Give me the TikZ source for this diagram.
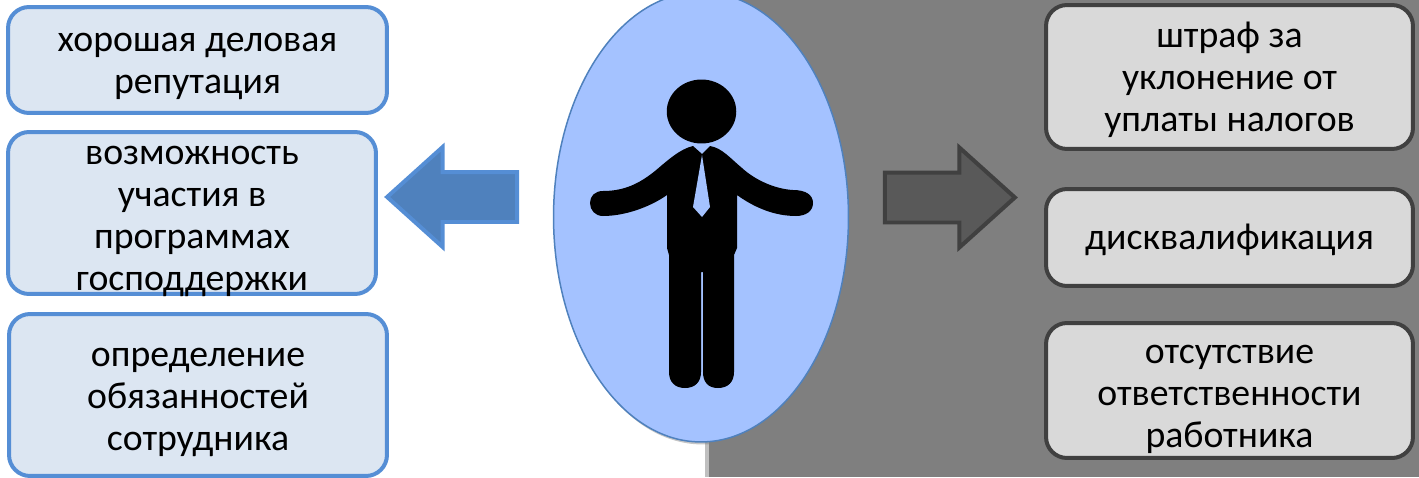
\documentclass[tikz,border=0pt]{standalone}
\usepackage{fontspec}
\setmainfont{Carlito}
\usetikzlibrary{shapes.geometric,shapes.arrows,shadows}
\definecolor{BackGray}{HTML}{7F7F7F}
\definecolor{StripGray}{HTML}{BFBFBF}
\definecolor{OvalBlue}{HTML}{A4C2FF}
\definecolor{OvalEdge}{HTML}{4F81BD}
\definecolor{GoodFill}{HTML}{DCE6F2}
\definecolor{GoodEdge}{HTML}{558ED5}
\definecolor{BadFill}{HTML}{D9D9D9}
\definecolor{BadEdge}{HTML}{404040}
\tikzset{
  goodbox/.style={rectangle,rounded corners=0.42cm,draw=GoodEdge,fill=GoodFill,line width=0.08cm,inner sep=0pt},
  badbox/.style={rectangle,rounded corners=0.42cm,draw=BadEdge,fill=BadFill,line width=0.08cm,inner sep=0pt},
  boxtext/.style={inner sep=0pt,align=center,font=\fontsize{21.5}{23.9}\selectfont},
  bigarrow/.style={single arrow,inner sep=0pt,text height=0.92cm,text depth=0pt,minimum height=2.6cm,
              single arrow head extend=0.5cm,single arrow tip angle=84,line width=0.08cm},
}

\begin{document}
\begin{tikzpicture}[x=0.02cm,y=-0.02cm]
  \useasboundingbox (0,0) rectangle (1419,477);
  \fill[StripGray] (705,0) rectangle (709,477);
  \node[rectangle,fill=BackGray,inner sep=0pt,minimum width=14.2cm,minimum height=9.54cm] (back) at (1064,238.5) {};

  \node[ellipse,draw=OvalEdge,fill=OvalBlue,line width=0.03cm,inner sep=0pt,minimum width=5.9cm,minimum height=9cm,
        drop shadow={shadow xshift=0.03cm,shadow yshift=-0.05cm,opacity=0.45}] (oval) at (701,217) {};

  \node[goodbox,minimum width=7.58cm,minimum height=2.12cm,label={[boxtext,yshift=-0.12cm]center:{хорошая деловая\\репутация}}] (good1) at (197.5,60) {};
  \node[goodbox,minimum width=7.36cm,minimum height=3.24cm,label={[boxtext,yshift=-0.16cm]center:{возможность\\участия в\\программах\\господдержки}}] (good2) at (192,213) {};
  \node[goodbox,minimum width=7.56cm,minimum height=3.24cm,label={[boxtext,yshift=-0.14cm]center:{определение\\обязанностей\\сотрудника}}] (good3) at (198,395) {};

  \node[badbox,minimum width=7.34cm,minimum height=2.88cm,label={[boxtext,yshift=-0.06cm]center:{штраф за\\уклонение от\\уплаты налогов}}] (bad1) at (1229.5,77) {};
  \node[badbox,minimum width=7.34cm,minimum height=1.94cm,label={[boxtext,yshift=-0.04cm]center:{дисквалификация}}] (bad2) at (1229.5,237.5) {};
  \node[badbox,minimum width=7.34cm,minimum height=2.7cm,label={[boxtext,yshift=-0.18cm]center:{отсутствие\\ответственности\\работника}}] (bad3) at (1229.5,390.5) {};

  \node[bigarrow,draw=GoodEdge,fill=OvalEdge,shape border rotate=180] (goodarrow) at (466,197) {};
  \node[bigarrow,draw=BadEdge,fill=black!65] (badarrow) at (936,197.5) {};

  \node[ellipse,fill=black,inner sep=0pt,minimum width=1.39cm,minimum height=1.28cm] (head) at (701.5,111.5) {};
  \fill[black] (693,146) -- (702,154) -- (710,146)
    .. controls (722,148) and (730,158) .. (742,168)
    .. controls (755,180) and (775,189) .. (793,190)
    .. controls (806,190) and (813,195) .. (813,203)
    .. controls (813,211) and (806,216) .. (796,216)
    .. controls (775,216) and (755,208) .. (737,195)
    -- (737,248) -- (734,255) -- (734,372)
    .. controls (734,382) and (728,388) .. (718,388)
    .. controls (708,388) and (703,382) .. (703,372)
    -- (703,272) -- (701,272) -- (701,372)
    .. controls (701,382) and (695,388) .. (685,388)
    .. controls (675,388) and (669,382) .. (669,372)
    -- (669,255) -- (667,248) -- (667,195)
    .. controls (650,207) and (625,216) .. (603,216)
    .. controls (595,216) and (590,210) .. (590,203)
    .. controls (590,196) and (595,191) .. (603,191)
    .. controls (625,191) and (640,183) .. (655,171)
    .. controls (668,160) and (680,149) .. (693,146) -- cycle;
  \fill[OvalBlue] (702,155) -- (710,207) -- (702,217) -- (693,207) -- cycle;
\end{tikzpicture}
\end{document}
